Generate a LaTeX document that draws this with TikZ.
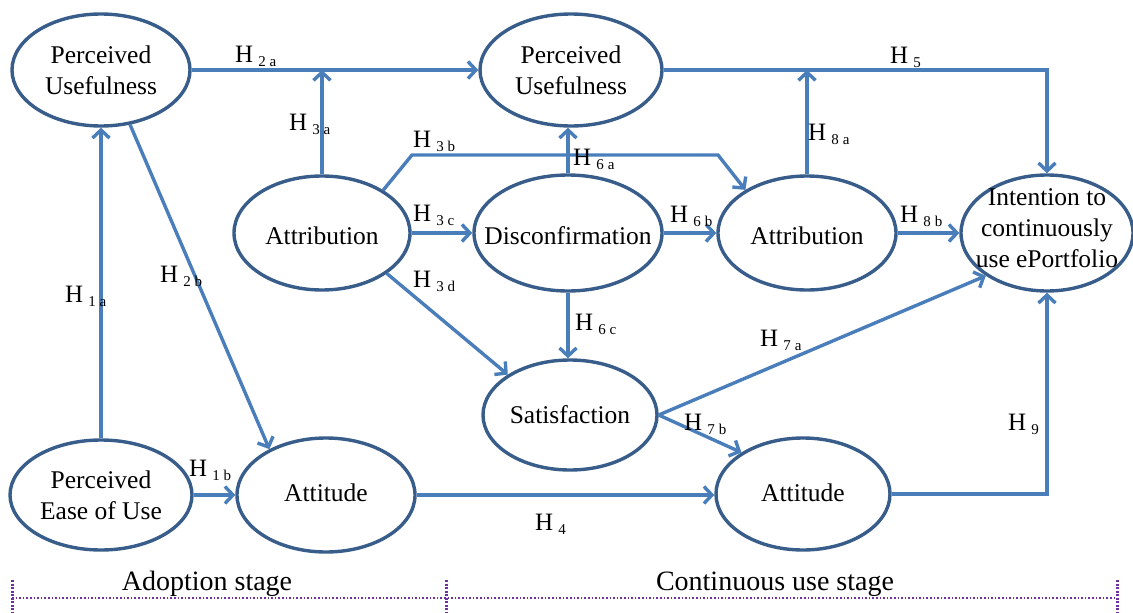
\documentclass[tikz,border=0pt]{standalone}
\usepackage{fontspec}
\newfontfamily\tfont{Liberation Serif}
\usetikzlibrary{arrows.meta,calc,shapes.geometric}
\definecolor{lineblue}{RGB}{74,126,187}
\definecolor{nodeblue}{RGB}{56,93,138}
\definecolor{stagepurple}{RGB}{112,48,160}
\newcommand{\hyp}[2]{H\hspace{5pt}\raisebox{-4pt}{\fontsize{15}{15}\selectfont #1\hspace{4pt}#2}}
\newcommand{\zw}[2][-9pt]{\makebox[0pt]{\smash{\raisebox{#1}{\begin{tabular}{@{}c@{}}#2\end{tabular}}}}}
\begin{document}
\begin{tikzpicture}[x=1pt,y=1pt,
  cnode/.style={ellipse, draw=nodeblue, line width=3.4pt, inner sep=0pt, align=center,
    font=\tfont\fontsize{25.5}{31}\selectfont},
  arr/.style={draw=lineblue, line width=3.4pt, -{Straight Barb[length=8pt,width=17pt]}},
  hlab/.style={anchor=base west, inner sep=0pt, font=\tfont\fontsize{25}{25}\selectfont},
  stagetxt/.style={anchor=base, inner sep=0pt, font=\tfont\fontsize{28}{28}\selectfont},
  stageline/.style={draw=stagepurple, line width=1.6pt, dotted},
  stagetick/.style={draw=stagepurple, line width=3pt, dash pattern=on 2pt off 1.5pt}]
\useasboundingbox (0,-613) rectangle (1133,0);

% nodes
\node[cnode, minimum width=178pt, minimum height=112pt] (pu1) at (101,-70) {\zw{Perceived\\Usefulness}};
\node[cnode, minimum width=182pt, minimum height=112pt] (pu2) at (571,-70) {\zw{Perceived\\Usefulness}};
\node[cnode, minimum width=176pt, minimum height=114pt] (at1) at (322,-233) {\zw[-12pt]{Attribution}};
\node[cnode, minimum width=188pt, minimum height=116pt] (dis) at (568,-233) {\zw[-12pt]{Disconfirmation}};
\node[cnode, minimum width=178pt, minimum height=114pt] (at2) at (807,-233) {\zw[-12pt]{Attribution}};
\node[cnode, minimum width=172pt, minimum height=116pt] (int) at (1047,-233) {\zw[-4pt]{Intention to\\continuously\\use ePortfolio}};
\node[cnode, minimum width=174pt, minimum height=110pt] (sat) at (570,-415) {\zw[-9pt]{Satisfaction}};
\node[cnode, minimum width=182pt, minimum height=110pt] (peou) at (101,-495) {\zw{Perceived\\Ease of Use}};
\node[cnode, minimum width=178pt, minimum height=114pt] (att1) at (326,-495) {\zw[-7pt]{Attitude}};
\node[cnode, minimum width=174pt, minimum height=112pt] (att2) at (803,-494) {\zw[-8pt]{Attitude}};

\coordinate (b1) at (412,-155);
\coordinate (b2) at (718,-155);

% connectors
\draw[arr] (peou.north) -- (peou.north |- pu1.south);
\draw[arr] (peou.east) -- (att1.west |- peou.east);
\draw[arr] (pu1.east) -- (pu2.west);
\draw[arr] (at1.north) -- (at1.north |- pu1.east);
\draw[arr] (pu1.-62) -- (att1.141);
\draw[arr] (at1.35) -- (b1) -- (b2) -- (at2.145);
\draw[arr] (at1.east) -- (dis.west);
\draw[arr] (at1.-32) -- (sat.147);
\draw[arr] (dis.north) -- (dis.north |- pu2.south);
\draw[arr] (dis.east) -- (at2.west);
\draw[arr] (dis.south) -- (dis.south |- sat.north);
\draw[arr] (at2.north) -- (at2.north |- pu2.east);
\draw[arr] (pu2.east) -- (int.north |- pu2.east) -- (int.north);
\draw[arr] (at2.east) -- (int.west);
\draw[arr] (sat.east) -- (int.215);
\draw[arr] (sat.east) -- (att2.146);
\draw[arr] (att1.east) -- (att2.west |- att1.east);
\draw[arr] (att2.east) -- (att2.east -| int.south) -- (int.south);

% labels
\node[hlab] (l2a) at (235,-62) {\hyp{2}{a}};
\node[hlab] (l3a) at (289,-130) {\hyp{3}{a}};
\node[hlab] (l3b) at (413,-147) {\hyp{3}{b}};
\node[hlab] (l3c) at (413,-221) {\hyp{3}{c}};
\node[hlab] (l3d) at (413,-287) {\hyp{3}{d}};
\node[hlab] (l2b) at (160,-282) {\hyp{2}{b}};
\node[hlab] (l1a) at (65,-302) {\hyp{1}{a}};
\node[hlab] (l1b) at (189,-476) {\hyp{1}{b}};
\node[hlab] (l6a) at (573,-165) {\hyp{6}{a}};
\node[hlab] (l6b) at (670,-222) {\hyp{6}{b}};
\node[hlab] (l6c) at (575,-330) {\hyp{6}{c}};
\node[hlab] (l8a) at (808,-140) {\hyp{8}{a}};
\node[hlab] (l8b) at (900,-222) {\hyp{8}{b}};
\node[hlab] (l5) at (890,-63) {\hyp{5}{}};
\node[hlab] (l7a) at (760,-346) {\hyp{7}{a}};
\node[hlab] (l7b) at (684,-430) {\hyp{7}{b}};
\node[hlab] (l4) at (535,-530) {\hyp{4}{}};
\node[hlab] (l9) at (1008,-430) {\hyp{9}{}};

% stages
\node[stagetxt] (s1) at (207,-590) {Adoption stage};
\node[stagetxt] (s2) at (775,-590) {Continuous use stage};
\draw[stageline] (12,-598) -- (1117,-598);
\draw[stagetick] (12,-580) -- (12,-613);
\draw[stagetick] (446,-580) -- (446,-613);
\draw[stagetick] (1117,-580) -- (1117,-613);
\end{tikzpicture}
\end{document}
